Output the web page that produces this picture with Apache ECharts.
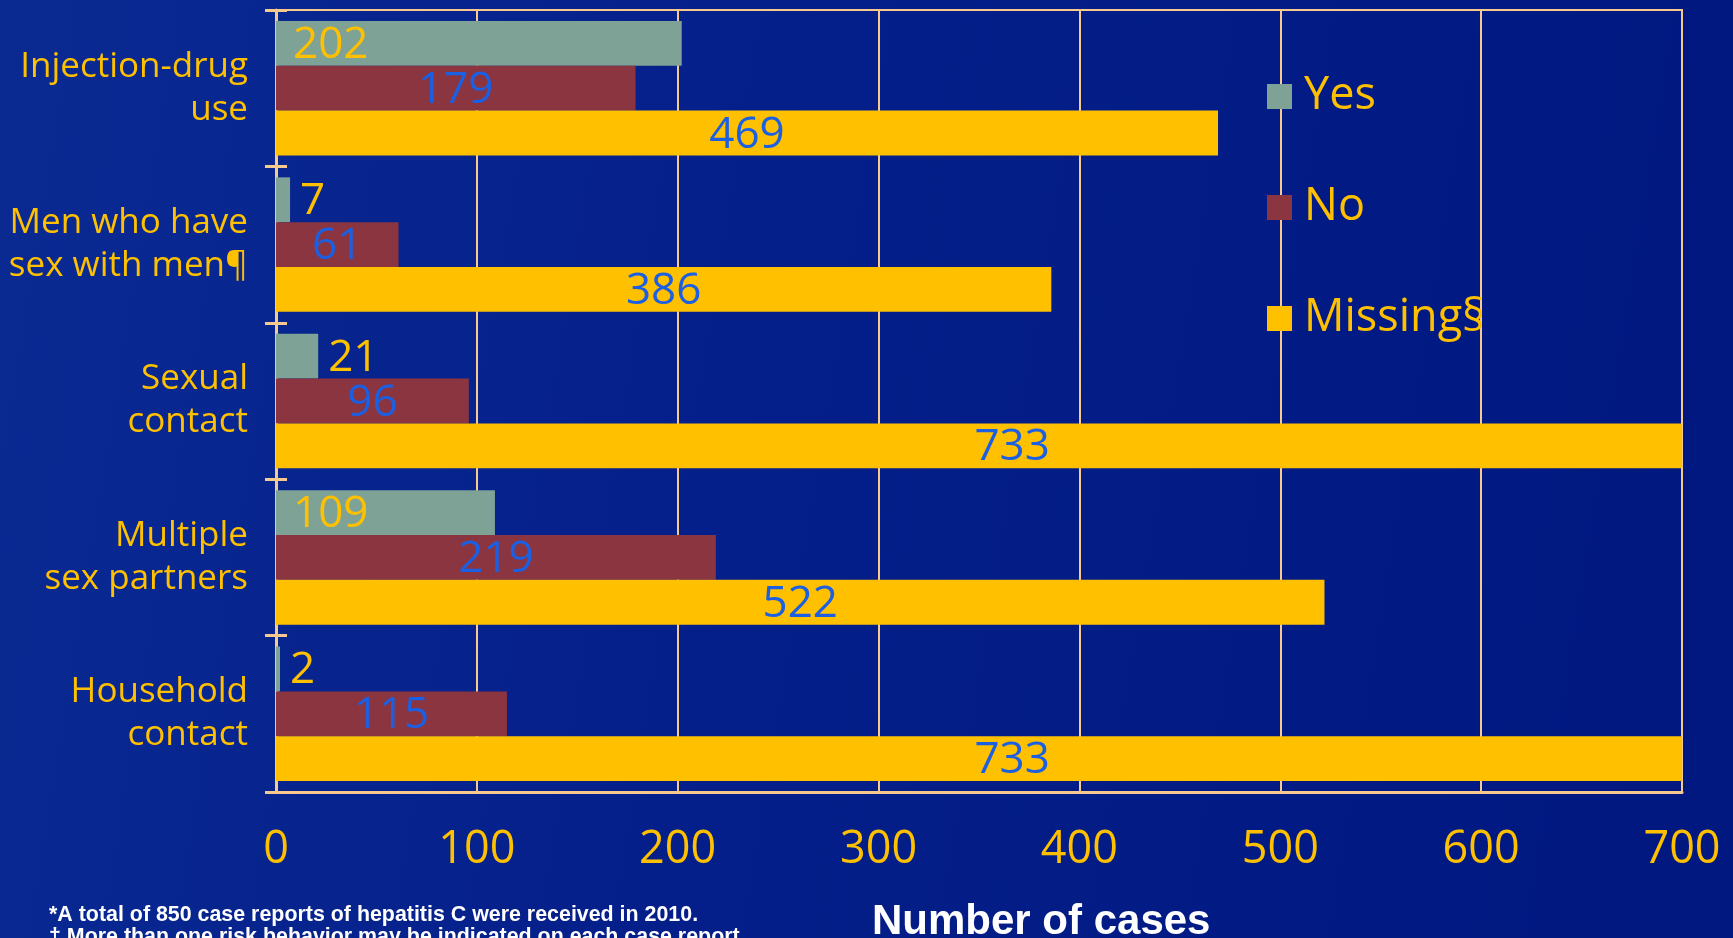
<!DOCTYPE html>
<html>
<head>
<meta charset="utf-8">
<script src="https://cdn.jsdelivr.net/npm/echarts@6/dist/echarts.min.js"></script>
<style>
  html, body { margin: 0; padding: 0; }
  #chart { width: 1733px; height: 938px; }
</style>
</head>
<body>
<div id="chart"></div>
<script>
const categories = [
  "Injection-drug\nuse",
  "Men who have\nsex with men¶",
  "Sexual\ncontact",
  "Multiple\nsex partners",
  "Household\ncontact"
];
const seriesNames = ["Yes", "No", "Missing§"];
const yesValues = [202, 7, 21, 109, 2];
const noValues = [179, 61, 96, 219, 115];
const missingValues = [469, 386, 733, 522, 733];
const xTicks = { min: 0, max: 700, interval: 100 };
const xAxisTitle = "Number of cases";
const footnotes = [
  "*A total of 850 case reports of hepatitis C were received in 2010.",
  "\u2020 More than one risk behavior may be indicated on each case report."
];

const YELLOW = "#FFC000";
const BLUE_LABEL = "#1B5FE3";
const GRIDC = "#F7C98E";

const chart = echarts.init(document.getElementById("chart"));

function centredLabel(v) {
  // centre of the full bar, expressed relative to the (possibly clipped) drawn rect
  const pct = 50 * v / Math.min(v, xTicks.max);
  return {
    show: true,
    position: [pct + "%", "50%"],
    align: "center",
    verticalAlign: "middle",
    offset: [0, 2],
    color: BLUE_LABEL,
    fontFamily: "Open Sans",
    fontSize: 44
  };
}

const option = {
  backgroundColor: {
    type: "linear", x: 0, y: 0, x2: 1, y2: 0.3,
    colorStops: [
      { offset: 0, color: "#0a2a92" },
      { offset: 0.45, color: "#051f8a" },
      { offset: 1, color: "#001880" }
    ]
  },
  animation: false,
  textStyle: { fontFamily: "Open Sans" },
  grid: {
    left: 276, right: 51, top: 10, bottom: 146,
    show: true, borderColor: GRIDC, borderWidth: 2, backgroundColor: "transparent",
    containLabel: false
  },
  legend: {
    orient: "vertical",
    left: 1262, top: 69,
    itemWidth: 25, itemHeight: 25, itemGap: 66,
    icon: "rect",
    data: seriesNames,
    textStyle: { color: YELLOW, fontSize: 45, fontFamily: "Open Sans", padding: [0, 0, 0, 7] }
  },
  xAxis: {
    type: "value",
    min: xTicks.min, max: xTicks.max, interval: xTicks.interval,
    axisLine: { show: true, lineStyle: { color: GRIDC, width: 3 } },
    axisTick: { show: false },
    splitLine: { show: true, lineStyle: { color: GRIDC, width: 2 } },
    axisLabel: { color: YELLOW, fontSize: 45, fontFamily: "Open Sans", margin: 36 }
  },
  yAxis: [
    {
      type: "category", data: categories, inverse: true,
      axisLine: { show: true, lineStyle: { color: GRIDC, width: 3 } },
      axisTick: { show: true, length: 11, lineStyle: { color: GRIDC, width: 3 } },
      axisLabel: { color: YELLOW, fontSize: 35, fontFamily: "Open Sans", lineHeight: 43, margin: 28, align: "right" },
      splitLine: { show: false }
    },
    {
      type: "category", data: categories, inverse: true, position: "left",
      axisLine: { show: false },
      axisTick: { show: true, inside: true, length: 11, lineStyle: { color: GRIDC, width: 3 } },
      axisLabel: { show: false },
      splitLine: { show: false }
    }
  ],
  series: [
    {
      name: seriesNames[0], type: "bar", yAxisIndex: 0,
      barGap: "0%", barCategoryGap: "14%",
      itemStyle: { color: "#7EA396" },
      data: yesValues.map(v => ({
        value: v,
        label: {
          show: true,
          position: v < 50 ? "right" : "insideLeft",
          distance: v < 50 ? 10 : 17,
          offset: [0, 2],
          color: YELLOW, fontSize: 44, fontFamily: "Open Sans"
        }
      }))
    },
    {
      name: seriesNames[1], type: "bar", yAxisIndex: 0,
      barGap: "0%", barCategoryGap: "14%",
      itemStyle: { color: "#8A3540" },
      data: noValues.map(v => ({ value: v, label: centredLabel(v) }))
    },
    {
      name: seriesNames[2], type: "bar", yAxisIndex: 0,
      barGap: "0%", barCategoryGap: "14%",
      itemStyle: { color: YELLOW },
      data: missingValues.map(v => ({ value: v, label: centredLabel(v) }))
    }
  ],
  graphic: [
    {
      type: "text", left: 872, top: 901,
      style: { text: xAxisTitle, fill: "#ffffff", font: "bold 42px 'Liberation Sans', Arial, sans-serif" }
    },
    {
      type: "text", left: 49, top: 905,
      style: { text: footnotes[0], fill: "#ffffff", font: "bold 21.4px 'Liberation Sans', Arial, sans-serif" }
    },
    {
      type: "text", left: 49, top: 927,
      style: { text: footnotes[1], fill: "#ffffff", font: "bold 21.4px 'Liberation Sans', Arial, sans-serif" }
    }
  ]
};

chart.setOption(option);
</script>
</body>
</html>
